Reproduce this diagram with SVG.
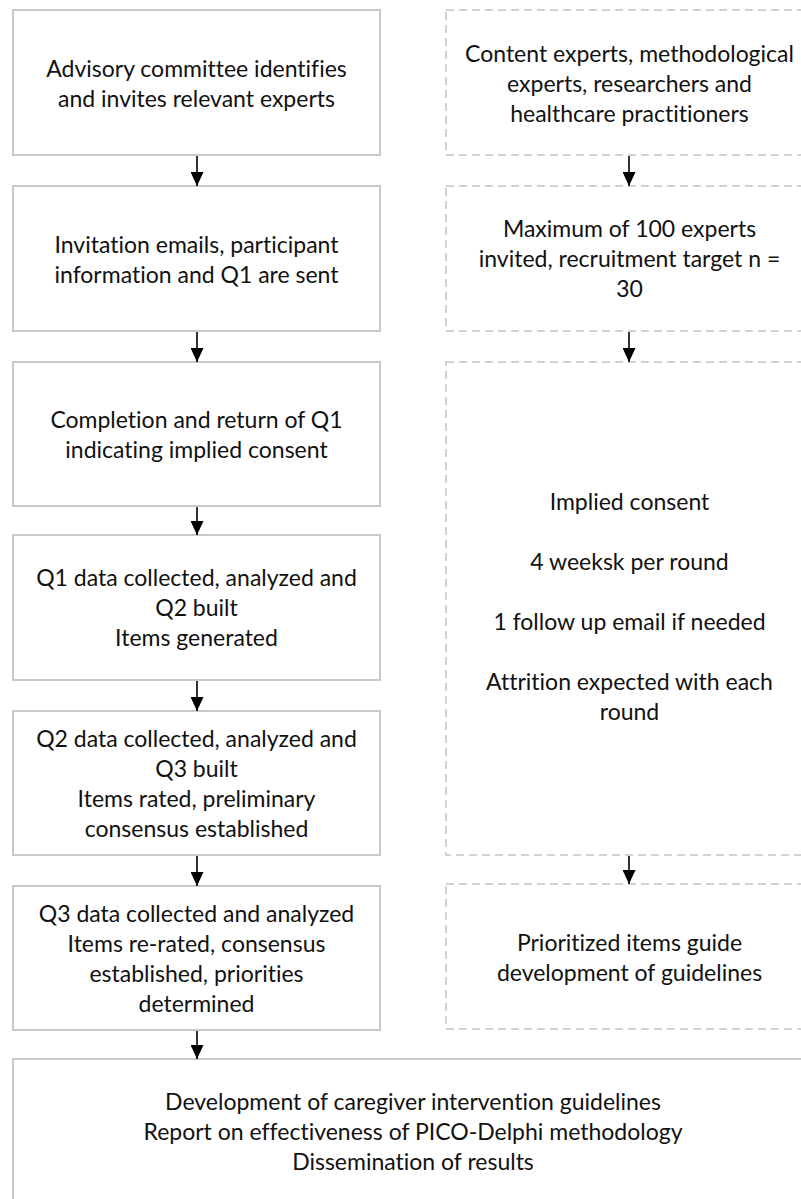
<svg xmlns="http://www.w3.org/2000/svg" width="801" height="1199" viewBox="0 0 801 1199">
<defs>
<marker id="ah" markerWidth="14" markerHeight="13" refX="14" refY="6.5" orient="auto" markerUnits="userSpaceOnUse">
<path d="M0,0 L14,6.5 L0,13 Z" fill="#000"/>
</marker>
<style>
.box{fill:#fff;stroke:#c9c9c9;stroke-width:2}
.dbox{fill:#fff;stroke:#c4c4c4;stroke-width:1.5;stroke-dasharray:8 5}
text{font-family:Lato,"Liberation Sans",sans-serif;font-size:23px;fill:#111;text-anchor:middle;font-variant-ligatures:none}
.arr{stroke:#000;stroke-width:1.6;fill:none;marker-end:url(#ah)}
</style>
</defs>
<rect width="801" height="1199" fill="#fff"/>
<g id="n1"><rect class="box" x="13" y="10" width="367" height="145"/>
<text x="196.5" y="76.5">Advisory committee identifies</text><text x="196.5" y="106.5">and invites relevant experts</text></g>
<g id="n2"><rect class="box" x="13" y="186" width="367" height="145"/>
<text x="196.5" y="252.5">Invitation emails, participant</text><text x="196.5" y="282.5">information and Q1 are sent</text></g>
<g id="n3"><rect class="box" x="13" y="362" width="367" height="144"/>
<text x="196.5" y="428">Completion and return of Q1</text><text x="196.5" y="458">indicating implied consent</text></g>
<g id="n4"><rect class="box" x="13" y="535" width="367" height="145"/>
<text x="196.5" y="586">Q1 data collected, analyzed and</text><text x="196.5" y="616">Q2 built</text><text x="196.5" y="646">Items generated</text></g>
<g id="n5"><rect class="box" x="13" y="711" width="367" height="144"/>
<text x="196.5" y="747">Q2 data collected, analyzed and</text><text x="196.5" y="777">Q3 built</text><text x="196.5" y="807">Items rated, preliminary</text><text x="196.5" y="837">consensus established</text></g>
<g id="n6"><rect class="box" x="13" y="886" width="367" height="144"/>
<text x="196.5" y="922">Q3 data collected and analyzed</text><text x="196.5" y="952">Items re-rated, consensus</text><text x="196.5" y="982">established, priorities</text><text x="196.5" y="1012">determined</text></g>
<g id="n7"><rect class="box" x="13" y="1059" width="800" height="160"/>
<text x="413" y="1110">Development of caregiver intervention guidelines</text><text x="413" y="1140">Report on effectiveness of PICO-Delphi methodology</text><text x="413" y="1170">Dissemination of results</text></g>
<g id="r1"><rect class="dbox" x="446" y="10" width="367" height="145"/>
<text x="629.5" y="61.5">Content experts, methodological</text><text x="629.5" y="91.5">experts, researchers and</text><text x="629.5" y="121.5">healthcare practitioners</text></g>
<g id="r2"><rect class="dbox" x="446" y="186" width="367" height="145"/>
<text x="629.5" y="237">Maximum of 100 experts</text><text x="629.5" y="267">invited, recruitment target n =</text><text x="629.5" y="297">30</text></g>
<g id="r3"><rect class="dbox" x="446" y="362" width="367" height="493"/>
<text x="629.5" y="510">Implied consent</text><text x="629.5" y="570">4 weeksk per round</text><text x="629.5" y="630">1 follow up email if needed</text><text x="629.5" y="690">Attrition expected with each</text><text x="629.5" y="720">round</text></g>
<g id="r4"><rect class="dbox" x="446" y="884" width="367" height="145"/>
<text x="629.5" y="950.5">Prioritized items guide</text><text x="629.5" y="980.5">development of guidelines</text></g>
<g id="connectors">
<line class="arr" x1="197" y1="156" x2="197" y2="186"/>
<line class="arr" x1="197" y1="332" x2="197" y2="362"/>
<line class="arr" x1="197" y1="507" x2="197" y2="535"/>
<line class="arr" x1="197" y1="681" x2="197" y2="711"/>
<line class="arr" x1="197" y1="856" x2="197" y2="886"/>
<line class="arr" x1="197" y1="1031" x2="197" y2="1059"/>
<line class="arr" x1="629" y1="156" x2="629" y2="186"/>
<line class="arr" x1="629" y1="332" x2="629" y2="362"/>
<line class="arr" x1="629" y1="856" x2="629" y2="884"/>
</g>
</svg>
